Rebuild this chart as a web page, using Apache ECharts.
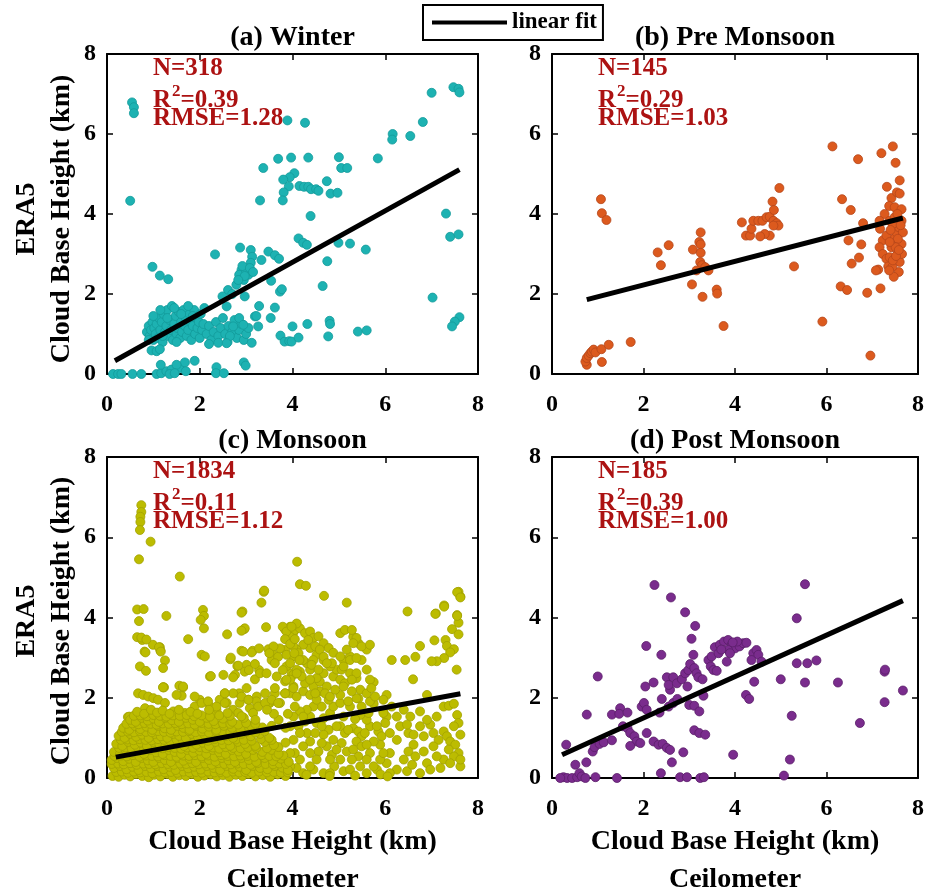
<!DOCTYPE html>
<html>
<head>
<meta charset="utf-8">
<title>ERA5 vs Ceilometer cloud base height</title>
<script src="https://cdn.jsdelivr.net/npm/echarts@6/dist/echarts.min.js"></script>
<style>
  html, body { margin: 0; padding: 0; background: #fff; }
  #chart { width: 932px; height: 893px; }
</style>
</head>
<body>
<div id="chart"></div>
<script>
// ---- data (km) ----
const panelTitles = ["(a) Winter", "(b) Pre Monsoon", "(c) Monsoon", "(d) Post Monsoon"];
const statN = ["318", "145", "1834", "185"];
const statR2 = ["0.39", "0.29", "0.11", "0.39"];
const statRMSE = ["1.28", "1.03", "1.12", "1.00"];
const axisTicks = [0, 2, 4, 6, 8];

const winterPts = [
  [0.54,6.79],[0.58,6.67],[0.58,6.52],[0.50,4.33],[3.89,6.34],[4.27,6.28],[7.00,7.03],[7.47,7.17],[7.58,7.13],[7.60,7.04],
  [6.81,6.30],[6.54,5.95],[6.16,6.00],[6.15,5.86],[5.84,5.39],[3.69,5.38],[3.97,5.41],[4.34,5.41],[5.00,5.42],[3.37,5.15],
  [5.05,5.15],[5.18,5.15],[4.04,5.02],[3.94,4.92],[3.80,4.86],[3.92,4.69],[3.81,4.54],[3.79,4.34],[4.15,4.70],[4.25,4.68],
  [4.34,4.68],[4.40,4.62],[4.51,4.62],[4.56,4.58],[4.74,4.82],[4.82,4.51],[4.97,4.53],[3.30,4.34],[4.39,3.95],[7.31,4.01],
  [7.40,3.43],[7.58,3.49],[4.13,3.39],[4.23,3.28],[4.31,3.23],[4.99,3.28],[5.24,3.26],[5.58,3.11],[4.75,2.82],[4.65,2.20],
  [2.33,2.99],[0.98,2.68],[1.14,2.46],[1.32,2.37],
  [2.87,3.16],[3.10,3.10],[3.13,2.93],[3.10,2.78],[3.01,2.64],[2.90,2.60],[2.85,2.48],[3.05,2.48],[2.95,2.35],[2.79,2.23],
  [3.00,2.55],[2.92,2.70],[3.08,2.65],[2.97,2.45],[3.15,2.55],[2.83,2.35],[2.97,1.94],[2.61,2.10],[2.49,1.94],[2.58,1.69],
  [2.70,2.00],[3.33,2.85],[3.48,3.06],[3.62,2.97],[3.71,2.88],[3.54,2.33],[3.73,2.06],[3.77,2.12],[3.28,1.70],[3.62,1.66],
  [3.19,1.44],[3.26,1.19],[3.53,1.40],[3.22,1.45],
  [3.74,0.96],[3.83,0.81],[3.93,0.82],[3.98,0.81],[4.13,0.91],[4.00,1.19],[4.32,1.25],[4.80,1.33],[4.81,1.25],[4.77,0.94],
  [5.41,1.06],[5.60,1.09],[7.02,1.91],[7.60,1.42],[7.50,1.31],[7.44,1.19],
  [0.86,1.05],[0.90,1.20],[0.92,0.95],[0.95,1.10],[0.98,1.30],[1.00,0.85],[1.02,1.15],[1.05,1.00],[1.07,1.25],[1.10,0.90],
  [1.12,1.40],[1.15,1.10],[1.18,1.30],[1.20,0.80],[1.22,1.50],[1.25,1.05],[1.28,1.20],[1.30,1.60],[1.32,0.95],[1.35,1.35],
  [1.38,1.10],[1.40,1.70],[1.42,0.85],[1.45,1.25],[1.48,1.45],[1.50,1.00],[1.52,1.15],[1.55,1.55],[1.58,0.90],[1.60,1.30],
  [1.62,1.05],[1.65,1.60],[1.68,1.20],[1.70,1.40],[1.72,0.95],[1.75,1.10],[1.78,1.50],[1.80,1.30],[1.82,0.85],[1.85,1.20],
  [1.88,1.60],[1.90,1.00],[1.92,1.40],[1.95,1.15],[1.98,1.30],[2.00,0.90],[2.02,1.50],[2.05,1.10],[2.08,1.25],[2.10,1.65],
  [1.00,1.45],[1.15,1.60],[1.30,1.40],[1.45,1.65],[1.60,1.50],[1.75,1.70],[1.20,0.95],[1.50,0.80],[1.85,1.45],[0.90,0.85],
  [2.15,1.00],[2.20,1.20],[2.25,0.85],[2.30,1.05],[2.35,1.30],[2.40,0.95],[2.45,1.15],[2.50,1.40],[2.55,1.00],[2.60,0.80],
  [2.62,1.20],[2.70,1.05],[2.75,1.35],[2.80,0.90],[2.85,1.10],[2.90,1.25],[2.95,0.85],[3.00,1.00],[3.05,1.15],[3.12,0.78],
  [2.20,0.75],[2.40,0.78],[2.65,0.95],[2.85,1.40],[2.94,1.23],[2.72,1.19],[2.58,0.77],
  [0.96,0.59],[1.07,0.57],[1.14,0.62],
  [0.13,0.00],[0.24,0.00],[0.31,0.00],[0.55,0.00],[0.74,0.00],[1.07,0.00],[1.17,0.02],[1.28,0.07],[1.39,0.11],[1.57,0.15],
  [1.68,0.29],[1.50,0.23],[1.16,0.23],[1.89,0.33],[1.70,0.07],[2.36,0.17],[2.35,0.02],[2.52,0.02],[2.95,0.29],[2.99,0.21],
  [1.35,0.00],[1.46,0.02]
];

const preMonsoonPts = [
  [1.07,4.37],[1.09,4.02],[1.19,3.85],
  [0.76,0.23],[0.73,0.31],[0.76,0.40],[0.80,0.46],[0.84,0.52],[0.87,0.56],[0.91,0.61],[0.95,0.54],[1.08,0.62],[1.09,0.30],
  [1.24,0.73],[1.72,0.80],
  [2.31,3.04],[2.55,3.22],[2.38,2.72],[3.08,3.11],[3.25,3.54],[3.22,3.30],[3.25,3.24],[3.25,3.03],[3.24,2.80],[3.28,2.72],
  [3.35,2.67],[3.42,2.59],[3.16,2.59],[3.06,2.24],[3.29,1.93],[3.60,2.11],[3.61,2.01],[3.75,1.20],
  [4.15,3.79],[4.24,3.46],[4.33,3.46],[4.36,3.63],[4.40,3.83],[4.51,3.83],[4.60,3.83],[4.69,3.92],[4.76,3.93],[4.84,3.83],
  [4.91,3.77],[4.95,3.71],[4.84,3.71],[4.76,3.46],[4.65,3.50],[4.55,3.44],[4.82,4.31],[4.97,4.65],[4.85,4.10],
  [5.29,2.69],[5.91,1.31],[6.13,5.69],
  [6.34,4.37],[6.53,4.10],[6.48,3.34],[6.55,2.76],[6.31,2.19],[6.45,2.10],[6.69,5.37],[6.80,3.77],[6.76,3.24],[6.71,2.91],
  [6.89,2.03],[6.96,0.46],
  [7.20,5.52],[7.45,5.69],[7.51,5.28],[7.60,4.84],[7.32,4.68],[7.42,4.40],[7.54,4.54],[7.60,4.51],[7.37,4.20],[7.49,4.17],
  [7.64,4.12],[7.27,4.00],[7.16,3.83],[7.17,3.63],[7.23,3.34],[7.16,3.17],[7.23,3.00],[7.31,2.88],[7.13,2.61],[7.08,2.59],
  [7.18,2.14],[7.35,2.69],[7.38,2.92],[7.42,3.17],[7.47,3.38],[7.53,3.54],[7.58,3.67],[7.67,3.54],[7.64,3.25],[7.56,3.00],
  [7.60,2.80],[7.58,2.55],[7.47,2.43],[7.44,2.68],[7.38,3.83],[7.45,3.75],[7.49,3.92],[7.64,3.83],[7.56,3.38],[7.51,3.17],
  [7.45,2.84],[7.37,2.59],[7.65,3.00],[7.31,3.46],[7.38,3.30],[7.55,4.00],[7.62,3.72],[7.52,2.95],[7.40,3.60],[7.58,3.10]
];

const monsoonPts = [
  // outliers and upper scatter
  [0.74,6.80],[0.74,6.63],[0.72,6.51],[0.72,6.38],[0.71,6.18],[0.94,5.89],[0.69,5.45],[1.57,5.02],[4.10,5.39],[4.16,4.83],
  [4.29,4.79],[4.68,4.54],[5.17,4.37],[3.38,4.64],[3.33,4.37],[7.58,4.64],[7.62,4.52],[7.27,4.30],[7.09,4.10],[6.48,4.15],
  [7.55,4.06],[7.58,3.87],[7.44,3.71],[7.58,3.58],
  [0.65,4.20],[0.79,4.21],[0.69,3.91],[1.28,4.04],[2.07,4.19],[2.09,4.04],[2.02,3.94],[2.09,3.73],[2.92,4.15],[3.43,3.76],
  [2.96,3.71],[2.59,3.58],[1.75,3.46],[0.65,3.51],[0.76,3.44],[0.99,3.32],[1.14,3.26],[0.81,3.15],[1.15,3.18],[1.25,2.93],
  [0.71,2.78],[0.84,2.67],[1.21,2.74],[1.21,2.26],[1.56,2.30],[1.61,2.05],[0.45,1.52],[2.04,3.07],[2.11,3.03],[2.22,2.53],
  [2.51,2.57],[2.66,2.96],[2.81,2.79],[2.90,3.17],[3.14,3.17],[3.01,2.82],[3.28,2.69],[2.76,2.57],[2.54,2.11],[2.85,2.11],
  [3.01,2.24],[3.19,2.46],
  [3.39,4.67],[2.90,4.12],[2.97,3.73],[2.90,3.67],[0.74,3.50],[0.85,3.45],[1.12,3.26],[1.16,3.15],[0.83,3.13],[2.94,3.15],
  [3.12,3.13],[3.28,3.23],[2.67,3.00],[2.83,2.80],[2.72,2.51],[2.97,2.65],[3.06,2.69],[3.19,2.84],[3.30,2.61],[2.24,2.54],
  [3.48,3.21],[3.59,3.07],[3.55,2.94],[3.69,3.02],[3.84,3.19],[3.84,3.70],[3.95,3.76],[4.02,3.63],[3.87,2.78],[3.98,2.61],
  [3.84,2.41],[1.23,2.26],[1.64,2.26],[3.05,1.95],[3.23,2.03],[3.51,1.87],[3.62,2.11],
  // right side, upper
  [7.08,4.09],[7.27,4.27],[7.55,4.63],[7.62,4.50],[7.55,4.04],[7.06,3.43],[7.30,3.44],[7.33,3.29],[7.48,3.21],[7.40,3.13],
  [7.27,2.99],[7.11,2.91],[7.00,2.91],[7.54,2.70],[6.14,2.94],[6.43,2.94],[6.65,3.02],[6.75,3.29],[6.60,2.46],[5.75,2.39],
  [6.03,2.07],[6.90,2.07],
  // right side, below the fit
  [7.26,1.78],[7.37,1.80],[7.48,1.85],[7.55,1.57],[7.58,1.37],[6.97,1.33],[7.04,1.12],[7.15,0.95],[7.26,1.16],[7.33,1.04],
  [7.40,0.91],[7.51,0.83],[7.62,1.08],[7.58,0.62],[7.48,0.54],[7.37,0.71],[7.26,0.46],[7.62,0.29],[7.62,0.46],[7.19,0.25],
  [6.83,0.66],[6.90,0.37],[6.61,0.83],[6.50,1.12],[6.61,1.08],[6.50,0.66],[6.65,0.54],[6.75,0.12],[6.97,0.21],[6.47,0.17],
  [6.25,0.95],[6.10,0.62],[6.03,0.37],[6.25,0.21],[5.85,1.16],[5.92,1.04],[5.89,0.83],[5.67,0.62],[5.75,0.91],[5.67,1.29],
  [5.60,1.45],[5.46,1.57],[5.35,1.47],[5.31,1.24],[5.42,1.16],[5.49,1.04],[5.56,1.12],[5.38,0.91],[5.49,0.79],[5.60,0.83],
  [5.42,0.54],[5.28,0.46],[5.46,0.29],[5.60,0.12],[5.82,0.21],[5.96,1.66],[6.03,1.53],[6.00,1.37],[5.75,1.85],[5.42,1.98],
  [5.24,1.78],[5.10,1.53],[5.03,1.29],[5.13,1.12],[5.06,0.87],[5.17,0.66],[5.03,0.46],[5.10,0.17],[4.90,0.29],[4.85,0.58],
  [4.74,0.79],[4.88,0.95],[4.78,1.20],[4.67,1.08],[4.63,0.87],[4.56,0.66],[4.52,0.46],[4.45,0.21],[4.67,0.12],[4.38,0.91],
  [4.31,1.12],[4.23,0.79],[4.16,0.46],[4.09,0.25],[4.05,0.62],[4.02,0.95],[4.13,1.29],[4.27,1.41],[4.38,1.53],[4.52,1.37],
  [4.67,1.49],[4.81,1.62],[4.88,1.78],[5.03,1.87],[4.78,1.95],[4.63,1.78],[4.45,1.78],[4.31,1.70],[4.16,1.66],[4.02,1.53],
  [5.96,1.62],[6.14,1.78],[6.25,1.53],[6.40,1.70],[6.54,1.53],[6.75,1.66],[6.90,1.45],[7.11,1.53],[6.32,1.29],[6.47,1.33],
  [6.75,1.29],[6.83,1.04],[7.04,0.79],[7.11,0.54],[7.48,1.29],[7.40,0.37],[6.40,0.46],[6.58,0.33],[6.10,0.12],[5.89,0.46],
  [5.75,0.29],[5.24,0.21],[4.81,0.12],[4.38,0.29],[4.23,0.12],[3.95,0.29],[3.95,0.62],[4.38,0.62],[4.81,0.46],[4.95,0.71],
  [5.31,0.71],[5.60,0.46],[5.96,0.62],[6.10,1.12],[5.82,1.29],[4.49,1.12],[4.16,1.12],[3.95,1.29],[4.95,1.29],[4.63,1.29],
  [5.20,1.20],[5.64,1.62],[4.23,1.53],[4.05,1.78],
  // right side, just above the fit
  [3.95,2.11],[4.09,2.03],[4.23,2.16],[4.38,2.07],[4.52,1.95],[4.59,2.16],[5.03,2.07],[5.20,1.91],[5.38,1.99],[5.67,1.91],
  [5.78,2.03],[5.96,1.95],[4.27,2.36],[4.45,2.28],[4.59,2.40],[4.74,2.28],[4.88,2.53],[5.03,2.45],[4.95,2.70],[4.81,2.78],
  [4.67,2.61],[4.52,2.49],[4.38,2.70],[4.16,2.65],[4.02,2.57],[5.13,2.36],[5.38,2.49],[5.24,2.61],[5.46,2.20],[5.67,2.45],
  [4.09,2.70],[4.20,2.53],[4.02,2.28],[3.95,2.45],[4.38,2.45],[4.49,2.11],[4.70,2.11],[4.81,2.03],[4.92,2.20],[5.10,2.28],
  [5.28,2.16],[5.60,2.11],[5.49,1.78],[5.70,2.24],[5.10,2.94],[5.31,3.52],[5.42,3.36],[5.60,3.20],[5.24,3.03],[5.49,2.94],
  [5.06,2.70],[5.38,2.61],[5.60,2.70],[5.28,2.45],
  // cluster near 4 km
  [3.95,3.77],[4.05,3.69],[4.16,3.73],[4.27,3.61],[4.38,3.65],[4.45,3.49],[4.56,3.53],[4.67,3.36],[4.78,3.24],[4.88,3.12],
  [5.03,3.61],[5.13,3.69],[5.28,3.69],[5.38,3.49],[5.49,3.28],[5.67,3.32],[5.31,3.36],[5.17,3.20],[5.03,3.03],[4.85,2.86],
  [4.67,2.94],[4.52,3.07],[4.38,3.24],[4.23,3.32],[4.09,3.20],[4.02,3.03],[4.16,2.94],[4.31,2.86],[4.45,2.94],[5.10,2.78],
  [5.24,2.94],[5.38,2.99],[4.09,3.85],[3.95,3.52],[4.02,3.28],[4.13,3.11],[4.23,2.94],[4.34,3.44],[4.49,3.28],[4.59,3.20],
  [4.41,2.82],[4.56,2.70],[4.67,3.02],[4.74,2.86],
  [3.79,3.77],[3.87,3.65],[3.98,3.77],[3.84,3.46],[3.95,3.34],[4.05,3.46],[3.73,3.23],[3.87,3.07],[4.04,3.11],[4.15,2.94],
  [3.95,2.86],[3.79,2.69],[3.59,3.28],[3.50,3.11],[3.62,2.86],[3.44,2.61],[3.66,2.53],[3.87,2.45],[4.09,2.61],[3.62,2.24],
  [3.84,2.11],[4.02,2.24],[3.41,2.11],[3.22,1.91],[3.48,1.87],[3.73,1.87],[3.08,1.74],[2.86,1.87],[2.72,1.70],[2.58,1.87],
  [2.43,1.95],[2.36,1.70],[2.22,1.78],[2.00,1.95],[1.89,2.03],
  // upper fringe of the dense band
  [0.67,2.11],[0.78,2.07],[0.89,2.03],[1.00,1.99],[1.10,1.95],[1.25,1.87],[1.50,2.07],[1.64,2.28],[1.21,2.26],[1.89,1.78],
  [2.04,1.87],[2.18,1.91],[2.36,1.78],[2.54,1.87],[2.72,2.11],[2.54,2.11],[2.90,2.03],[3.05,1.95],[3.26,1.78],[3.41,1.87],
  [3.55,1.95],[3.69,1.87],[3.84,2.11],[0.48,1.53],[0.82,1.74],[1.43,1.66],[1.68,1.62],[2.25,1.57],[2.83,1.62],[3.15,1.62],
  // dense band below 1.7 km
  [0.12,0.05],[0.25,0.03],[0.38,0.08],[0.50,0.04],[0.63,0.10],[0.76,0.05],[0.90,0.02],[1.02,0.08],[1.15,0.04],[1.30,0.10],
  [1.42,0.03],[1.56,0.07],[1.70,0.05],[1.83,0.10],[1.96,0.03],[2.10,0.06],[2.24,0.09],[2.37,0.04],[2.50,0.07],[2.64,0.03],
  [2.78,0.08],[2.92,0.05],[3.05,0.10],[3.20,0.04],[3.36,0.07],[3.52,0.03],[3.68,0.09],[3.85,0.05],[4.30,0.08],[4.80,0.05],
  [5.35,0.06],[5.90,0.09],[6.05,0.04],
  [0.20,0.15],[0.32,0.16],[0.45,0.13],[0.58,0.16],[0.72,0.14],[0.85,0.15],[0.98,0.12],[1.12,0.16],[1.25,0.14],[1.38,0.15],
  [1.52,0.13],[1.65,0.16],[1.78,0.14],[1.92,0.15],[2.05,0.13],[2.18,0.16],[2.32,0.14],[2.45,0.15],[2.58,0.13],[2.72,0.16],
  [2.85,0.14],[2.98,0.15],[3.12,0.13],[3.28,0.16],[3.45,0.14],[3.60,0.15],[3.75,0.13],[3.90,0.14],
  [0.15,0.25],[0.28,0.30],[0.42,0.22],[0.55,0.28],[0.68,0.20],[0.82,0.30],[0.95,0.24],[1.08,0.30],[1.22,0.22],[1.35,0.28],
  [1.48,0.20],[1.62,0.30],[1.75,0.24],[1.88,0.28],[2.02,0.21],[2.15,0.30],[2.30,0.25],[2.44,0.20],[2.58,0.30],[2.72,0.23],
  [2.86,0.28],[3.00,0.20],[3.14,0.30],[3.30,0.25],[3.46,0.22],[3.62,0.30],[3.78,0.26],[3.90,0.20],
  [0.10,0.35],[0.24,0.36],[0.36,0.34],[0.50,0.37],[0.64,0.33],[0.78,0.36],[0.91,0.35],[1.04,0.34],[1.18,0.37],[1.31,0.35],
  [1.44,0.33],[1.58,0.36],[1.71,0.35],[1.84,0.37],[1.98,0.34],[2.12,0.36],[2.26,0.33],[2.40,0.37],[2.53,0.35],[2.67,0.34],
  [2.81,0.36],[2.95,0.35],[3.10,0.33],[3.25,0.37],[3.42,0.35],[3.58,0.34],[3.72,0.36],[3.86,0.35],
  [0.10,0.45],[0.22,0.50],[0.35,0.42],[0.48,0.48],[0.62,0.40],[0.75,0.50],[0.88,0.44],[1.00,0.40],[1.12,0.50],[1.25,0.45],
  [1.38,0.40],[1.52,0.50],[1.65,0.43],[1.78,0.48],[1.92,0.40],[2.06,0.50],[2.20,0.45],[2.34,0.41],[2.48,0.50],[2.62,0.44],
  [2.76,0.40],[2.90,0.50],[3.06,0.45],[3.22,0.40],[3.40,0.50],[3.58,0.42],[3.75,0.48],[3.92,0.40],
  [0.16,0.55],[0.30,0.56],[0.43,0.54],[0.56,0.57],[0.70,0.53],[0.84,0.56],[0.97,0.55],[1.10,0.54],[1.24,0.57],[1.37,0.55],
  [1.50,0.53],[1.64,0.56],[1.77,0.55],[1.90,0.57],[2.04,0.54],[2.18,0.56],[2.32,0.53],[2.46,0.57],[2.60,0.55],[2.74,0.54],
  [2.88,0.56],[3.03,0.55],[3.18,0.53],[3.34,0.57],[3.50,0.55],[3.65,0.54],[3.80,0.56],
  [0.15,0.65],[0.28,0.60],[0.40,0.70],[0.53,0.63],[0.66,0.68],[0.80,0.60],[0.93,0.70],[1.06,0.64],[1.20,0.60],[1.33,0.70],
  [1.46,0.65],[1.60,0.60],[1.73,0.70],[1.86,0.63],[2.00,0.68],[2.14,0.60],[2.28,0.70],[2.42,0.64],[2.56,0.60],[2.70,0.70],
  [2.84,0.66],[3.00,0.60],[3.15,0.70],[3.35,0.65],[3.55,0.70],[3.70,0.60],
  [0.26,0.75],[0.40,0.76],[0.53,0.74],[0.66,0.77],[0.80,0.73],[0.93,0.76],[1.06,0.75],[1.20,0.74],[1.33,0.77],[1.46,0.75],
  [1.60,0.73],[1.73,0.76],[1.86,0.75],[2.00,0.77],[2.14,0.74],[2.28,0.76],[2.42,0.73],[2.56,0.77],[2.72,0.75],[2.88,0.74],
  [3.04,0.76],[3.22,0.75],[3.45,0.74],[3.70,0.77],
  [0.20,0.85],[0.33,0.80],[0.46,0.90],[0.60,0.83],[0.73,0.88],[0.86,0.80],[1.00,0.90],[1.13,0.84],[1.26,0.80],[1.40,0.90],
  [1.53,0.85],[1.66,0.80],[1.80,0.90],[1.93,0.83],[2.07,0.88],[2.20,0.80],[2.34,0.90],[2.50,0.84],[2.66,0.80],[2.82,0.90],
  [2.98,0.85],[3.20,0.80],[3.40,0.90],[3.60,0.82],[3.85,0.88],
  [0.30,0.95],[0.44,0.96],[0.57,0.94],[0.70,0.97],[0.83,0.95],[0.96,0.94],[1.10,0.97],[1.23,0.95],[1.36,0.93],[1.50,0.96],
  [1.63,0.95],[1.76,0.97],[1.90,0.94],[2.04,0.96],[2.18,0.93],[2.32,0.97],[2.47,0.95],[2.62,0.94],[2.78,0.96],[2.95,0.95],
  [3.12,0.93],[3.32,0.97],[3.55,0.95],
  [0.25,1.05],[0.38,1.00],[0.50,1.10],[0.63,1.03],[0.76,1.08],[0.90,1.00],[1.03,1.10],[1.16,1.04],[1.30,1.00],[1.43,1.10],
  [1.56,1.05],[1.70,1.00],[1.83,1.10],[1.96,1.03],[2.10,1.08],[2.25,1.00],[2.40,1.10],[2.56,1.05],[2.72,1.00],[2.90,1.10],
  [3.10,1.04],[3.30,1.10],[3.50,1.00],
  [0.32,1.15],[0.45,1.16],[0.58,1.14],[0.71,1.17],[0.84,1.15],[0.97,1.14],[1.10,1.17],[1.23,1.15],[1.37,1.13],[1.50,1.16],
  [1.64,1.15],[1.77,1.17],[1.91,1.14],[2.05,1.16],[2.20,1.13],[2.35,1.17],[2.50,1.15],[2.66,1.14],[2.82,1.16],[3.00,1.15],
  [3.20,1.13],[3.40,1.17],
  [0.35,1.25],[0.48,1.20],[0.60,1.30],[0.72,1.22],[0.85,1.28],[0.98,1.20],[1.10,1.30],[1.24,1.24],[1.38,1.20],[1.52,1.30],
  [1.65,1.25],[1.78,1.20],[1.92,1.30],[2.06,1.23],[2.20,1.28],[2.36,1.20],[2.52,1.30],[2.70,1.25],[2.88,1.20],[3.10,1.30],
  [3.35,1.26],
  [0.42,1.35],[0.55,1.36],[0.68,1.34],[0.81,1.37],[0.94,1.35],[1.07,1.33],[1.20,1.36],[1.33,1.35],[1.47,1.37],[1.61,1.34],
  [1.75,1.36],[1.89,1.33],[2.04,1.37],[2.19,1.35],[2.34,1.34],[2.50,1.36],[2.66,1.35],[2.83,1.33],[3.00,1.37],[3.20,1.35],
  [0.50,1.45],[0.62,1.40],[0.75,1.50],[0.88,1.43],[1.00,1.48],[1.12,1.40],[1.26,1.50],[1.40,1.44],[1.55,1.40],[1.70,1.50],
  [1.85,1.45],[2.00,1.40],[2.15,1.50],[2.30,1.42],[2.50,1.48],[2.70,1.40],[2.95,1.50],[3.20,1.45],
  [0.58,1.55],[0.72,1.56],[0.86,1.54],[1.00,1.57],[1.14,1.55],[1.28,1.53],[1.42,1.56],[1.57,1.55],[1.72,1.57],[1.88,1.54],
  [2.04,1.56],[2.22,1.53],[2.42,1.56],[2.65,1.55],[2.90,1.54],
  [0.65,1.65],[0.80,1.60],[0.95,1.70],[1.08,1.63],[1.20,1.68],[1.35,1.60],[1.55,1.70],[1.80,1.65],[1.95,1.60],[2.20,1.70],
  [2.60,1.62],[3.55,1.30],[3.70,1.45],[3.85,1.25],[3.60,1.60],[3.90,1.60],[3.45,1.70]
];

const postMonsoonPts = [
  [2.24,4.81],[5.53,4.83],[2.60,4.50],[2.91,4.13],[3.13,3.79],[3.05,3.47],[3.09,3.07],[2.06,3.29],[2.39,3.07],[5.35,3.98],
  [1.00,2.53],[0.76,1.58],[0.31,0.83],[0.51,0.33],[0.75,0.39],[0.95,0.02],[1.42,0.00],[0.25,0.02],[0.33,0.00],[0.44,0.00],
  [0.55,0.02],[0.60,0.12],[0.65,0.04],[0.73,0.00],[0.18,0.00],
  [2.38,0.12],[2.62,0.39],[2.87,0.64],[2.80,0.02],[2.95,0.02],[3.24,0.00],[3.32,0.02],[3.96,0.58],[5.07,0.06],[5.20,0.46],
  [5.24,1.55],[6.73,1.37],[7.27,1.89],[7.67,2.18],[7.27,2.65],[7.28,2.70],[6.25,2.38],[5.78,2.93],[5.58,2.86],[5.35,2.86],
  [5.53,2.38],[5.00,2.46],[4.42,2.40],[4.24,2.07],[4.31,1.97],
  [0.89,0.66],[0.93,0.77],[1.04,0.85],[1.13,0.89],[1.31,0.94],[1.31,1.58],[1.49,1.74],[1.47,1.60],[1.65,1.63],[1.55,1.29],
  [1.65,1.24],[1.71,1.12],[1.80,1.04],[1.85,0.91],[1.71,0.80],[1.93,0.87],[2.07,1.12],[1.96,1.78],[2.01,1.87],[2.07,1.70],
  [2.04,2.28],[2.22,2.38],[2.40,1.97],[2.51,2.51],[2.35,1.63],[2.55,1.78],[2.65,1.87],[2.74,1.97],[2.58,2.20],[2.55,2.32],
  [2.65,2.51],[2.73,2.36],[2.84,2.46],[2.91,2.61],[2.98,2.69],[3.02,2.84],[3.11,2.74],[3.16,2.61],[3.20,2.51],[3.29,2.46],
  [2.96,2.28],[3.00,1.82],[3.11,1.80],[3.22,1.66],[3.31,2.05],[3.11,1.19],[3.22,1.12],[3.35,1.08],[2.22,0.91],[2.33,0.83],
  [2.42,0.85],[2.51,0.75],[2.58,0.70],
  [3.42,2.94],[3.49,3.03],[3.47,2.78],[3.53,2.69],[3.60,2.67],[3.56,3.26],[3.67,3.32],[3.76,3.40],[3.85,3.44],[3.93,3.32],
  [4.00,3.23],[4.10,3.28],[4.18,3.36],[4.25,3.37],[3.85,3.19],[3.89,3.11],[3.82,2.90],[3.64,3.11],[4.40,3.11],[4.47,3.19],
  [4.51,3.07],[4.36,2.94],[4.58,2.90],[3.70,3.20],[4.05,3.40],[3.95,3.38]
];

// linear fit end points [x, y]
const fitWinter = [[0.17, 0.33], [7.60, 5.11]];
const fitPreMonsoon = [[0.76, 1.86], [7.67, 3.90]];
const fitMonsoon = [[0.19, 0.52], [7.62, 2.10]];
const fitPostMonsoon = [[0.22, 0.58], [7.67, 4.42]];

const pointSets = [winterPts, preMonsoonPts, monsoonPts, postMonsoonPts];
const fitSets = [fitWinter, fitPreMonsoon, fitMonsoon, fitPostMonsoon];
const fillColors = ["#1db2b2", "#dc5a1e", "#bcbc00", "#7a2c8d"];
const edgeColors = ["#139a9a", "#b5461a", "#a2a200", "#5a1e69"];

const SERIF = "'Liberation Serif', 'Times New Roman', serif";
const STAT_RED = "#ac1212";

const grids = [
  { left: 107, top: 54, width: 371, height: 320 },
  { left: 552, top: 54, width: 366, height: 320 },
  { left: 107, top: 457, width: 371, height: 321 },
  { left: 552, top: 457, width: 366, height: 321 },
];

function axisBase(i, pos, showLabel) {
  return {
    type: "value",
    gridIndex: i,
    position: pos,
    min: 0,
    max: 8,
    interval: 2,
    splitLine: { show: false },
    axisLine: { show: true, onZero: false, lineStyle: { color: "#000", width: 2 } },
    axisTick: { show: true, inside: true, length: 6, lineStyle: { color: "#000", width: 1.5 } },
    axisLabel: {
      show: showLabel,
      color: "#000",
      fontFamily: SERIF,
      fontWeight: "bold",
      fontSize: 24,
      margin: pos === "bottom" ? 19 : 11,
      showMinLabel: true,
      showMaxLabel: true,
    },
  };
}

const xAxes = [], yAxes = [], series = [], graphics = [];
grids.forEach((g, i) => {
  xAxes.push(axisBase(i, "bottom", true));
  yAxes.push(axisBase(i, "left", true));
});
// mirrored top / right axes for the closed box
grids.forEach((g, i) => {
  xAxes.push(axisBase(i, "top", false));
  yAxes.push(axisBase(i, "right", false));
});

pointSets.forEach((pts, i) => {
  series.push({
    type: "scatter",
    name: panelTitles[i],
    xAxisIndex: i,
    yAxisIndex: i,
    data: pts,
    symbolSize: 9,
    itemStyle: { color: fillColors[i], borderColor: edgeColors[i], borderWidth: 0.8, opacity: 1 },
    z: 2,
  });
  series.push({
    type: "line",
    name: "linear fit",
    xAxisIndex: i,
    yAxisIndex: i,
    data: fitSets[i],
    showSymbol: false,
    symbol: "none",
    lineStyle: { color: "#000", width: 5 },
    itemStyle: { color: "#000" },
    z: 3,
  });
});

grids.forEach((g, i) => {
  const cx = g.left + g.width / 2;
  const top = g.top;
  graphics.push({
    type: "text", x: cx, y: top - 16,
    style: { text: panelTitles[i], font: "bold 28px " + SERIF, fill: "#000", textAlign: "center", textVerticalAlign: "middle" },
  });
  const sx = g.left + 46;
  const statFont = "bold 25px " + SERIF;
  graphics.push({
    type: "text", x: sx, y: top + 15,
    style: { text: "N=" + statN[i], font: statFont, fill: STAT_RED, textAlign: "left", textVerticalAlign: "middle" },
  });
  graphics.push({
    type: "text", x: sx, y: top + 44,
    style: {
      text: "{m|R}{s|2}{m|=" + statR2[i] + "}",
      textAlign: "left",
      textVerticalAlign: "middle",
      rich: {
        m: { font: statFont, fill: STAT_RED, lineHeight: 30, verticalAlign: "bottom" },
        s: { font: "bold 17px " + SERIF, fill: STAT_RED, lineHeight: 30, verticalAlign: "top", padding: [0, 0, 0, 1] },
      },
    },
  });
  graphics.push({
    type: "text", x: sx, y: top + 64.5,
    style: { text: "RMSE=" + statRMSE[i], font: statFont, fill: STAT_RED, textAlign: "left", textVerticalAlign: "middle" },
  });
});

// y-axis names (left column)
[219, 621].forEach((cy) => {
  graphics.push({
    type: "text", x: 27, y: cy, rotation: Math.PI / 2,
    style: { text: "ERA5", font: "bold 28px " + SERIF, fill: "#000", textAlign: "center", textVerticalAlign: "middle" },
  });
  graphics.push({
    type: "text", x: 62, y: cy, rotation: Math.PI / 2,
    style: { text: "Cloud Base Height (km)", font: "bold 28px " + SERIF, fill: "#000", textAlign: "center", textVerticalAlign: "middle" },
  });
});

// x-axis names (bottom row)
[grids[2], grids[3]].forEach((g) => {
  const cx = g.left + g.width / 2;
  graphics.push({
    type: "text", x: cx, y: 842,
    style: { text: "Cloud Base Height (km)", font: "bold 28px " + SERIF, fill: "#000", textAlign: "center", textVerticalAlign: "middle" },
  });
  graphics.push({
    type: "text", x: cx, y: 880,
    style: { text: "Ceilometer", font: "bold 28px " + SERIF, fill: "#000", textAlign: "center", textVerticalAlign: "middle" },
  });
});

const chart = echarts.init(document.getElementById("chart"), null, { renderer: "canvas" });
chart.setOption({
  animation: false,
  backgroundColor: "#fff",
  legend: {
    data: [{ name: "linear fit", icon: "rect" }],
    left: 423,
    top: 5,
    padding: [6, 6, 6, 9],
    itemWidth: 75,
    itemHeight: 4,
    borderColor: "#000",
    borderWidth: 2,
    borderRadius: 0,
    backgroundColor: "#fff",
    textStyle: { color: "#000", fontFamily: SERIF, fontWeight: "bold", fontSize: 23 },
    selectedMode: false,
  },
  grid: grids,
  xAxis: xAxes,
  yAxis: yAxes,
  series: series,
  graphic: graphics,
});
</script>
</body>
</html>
